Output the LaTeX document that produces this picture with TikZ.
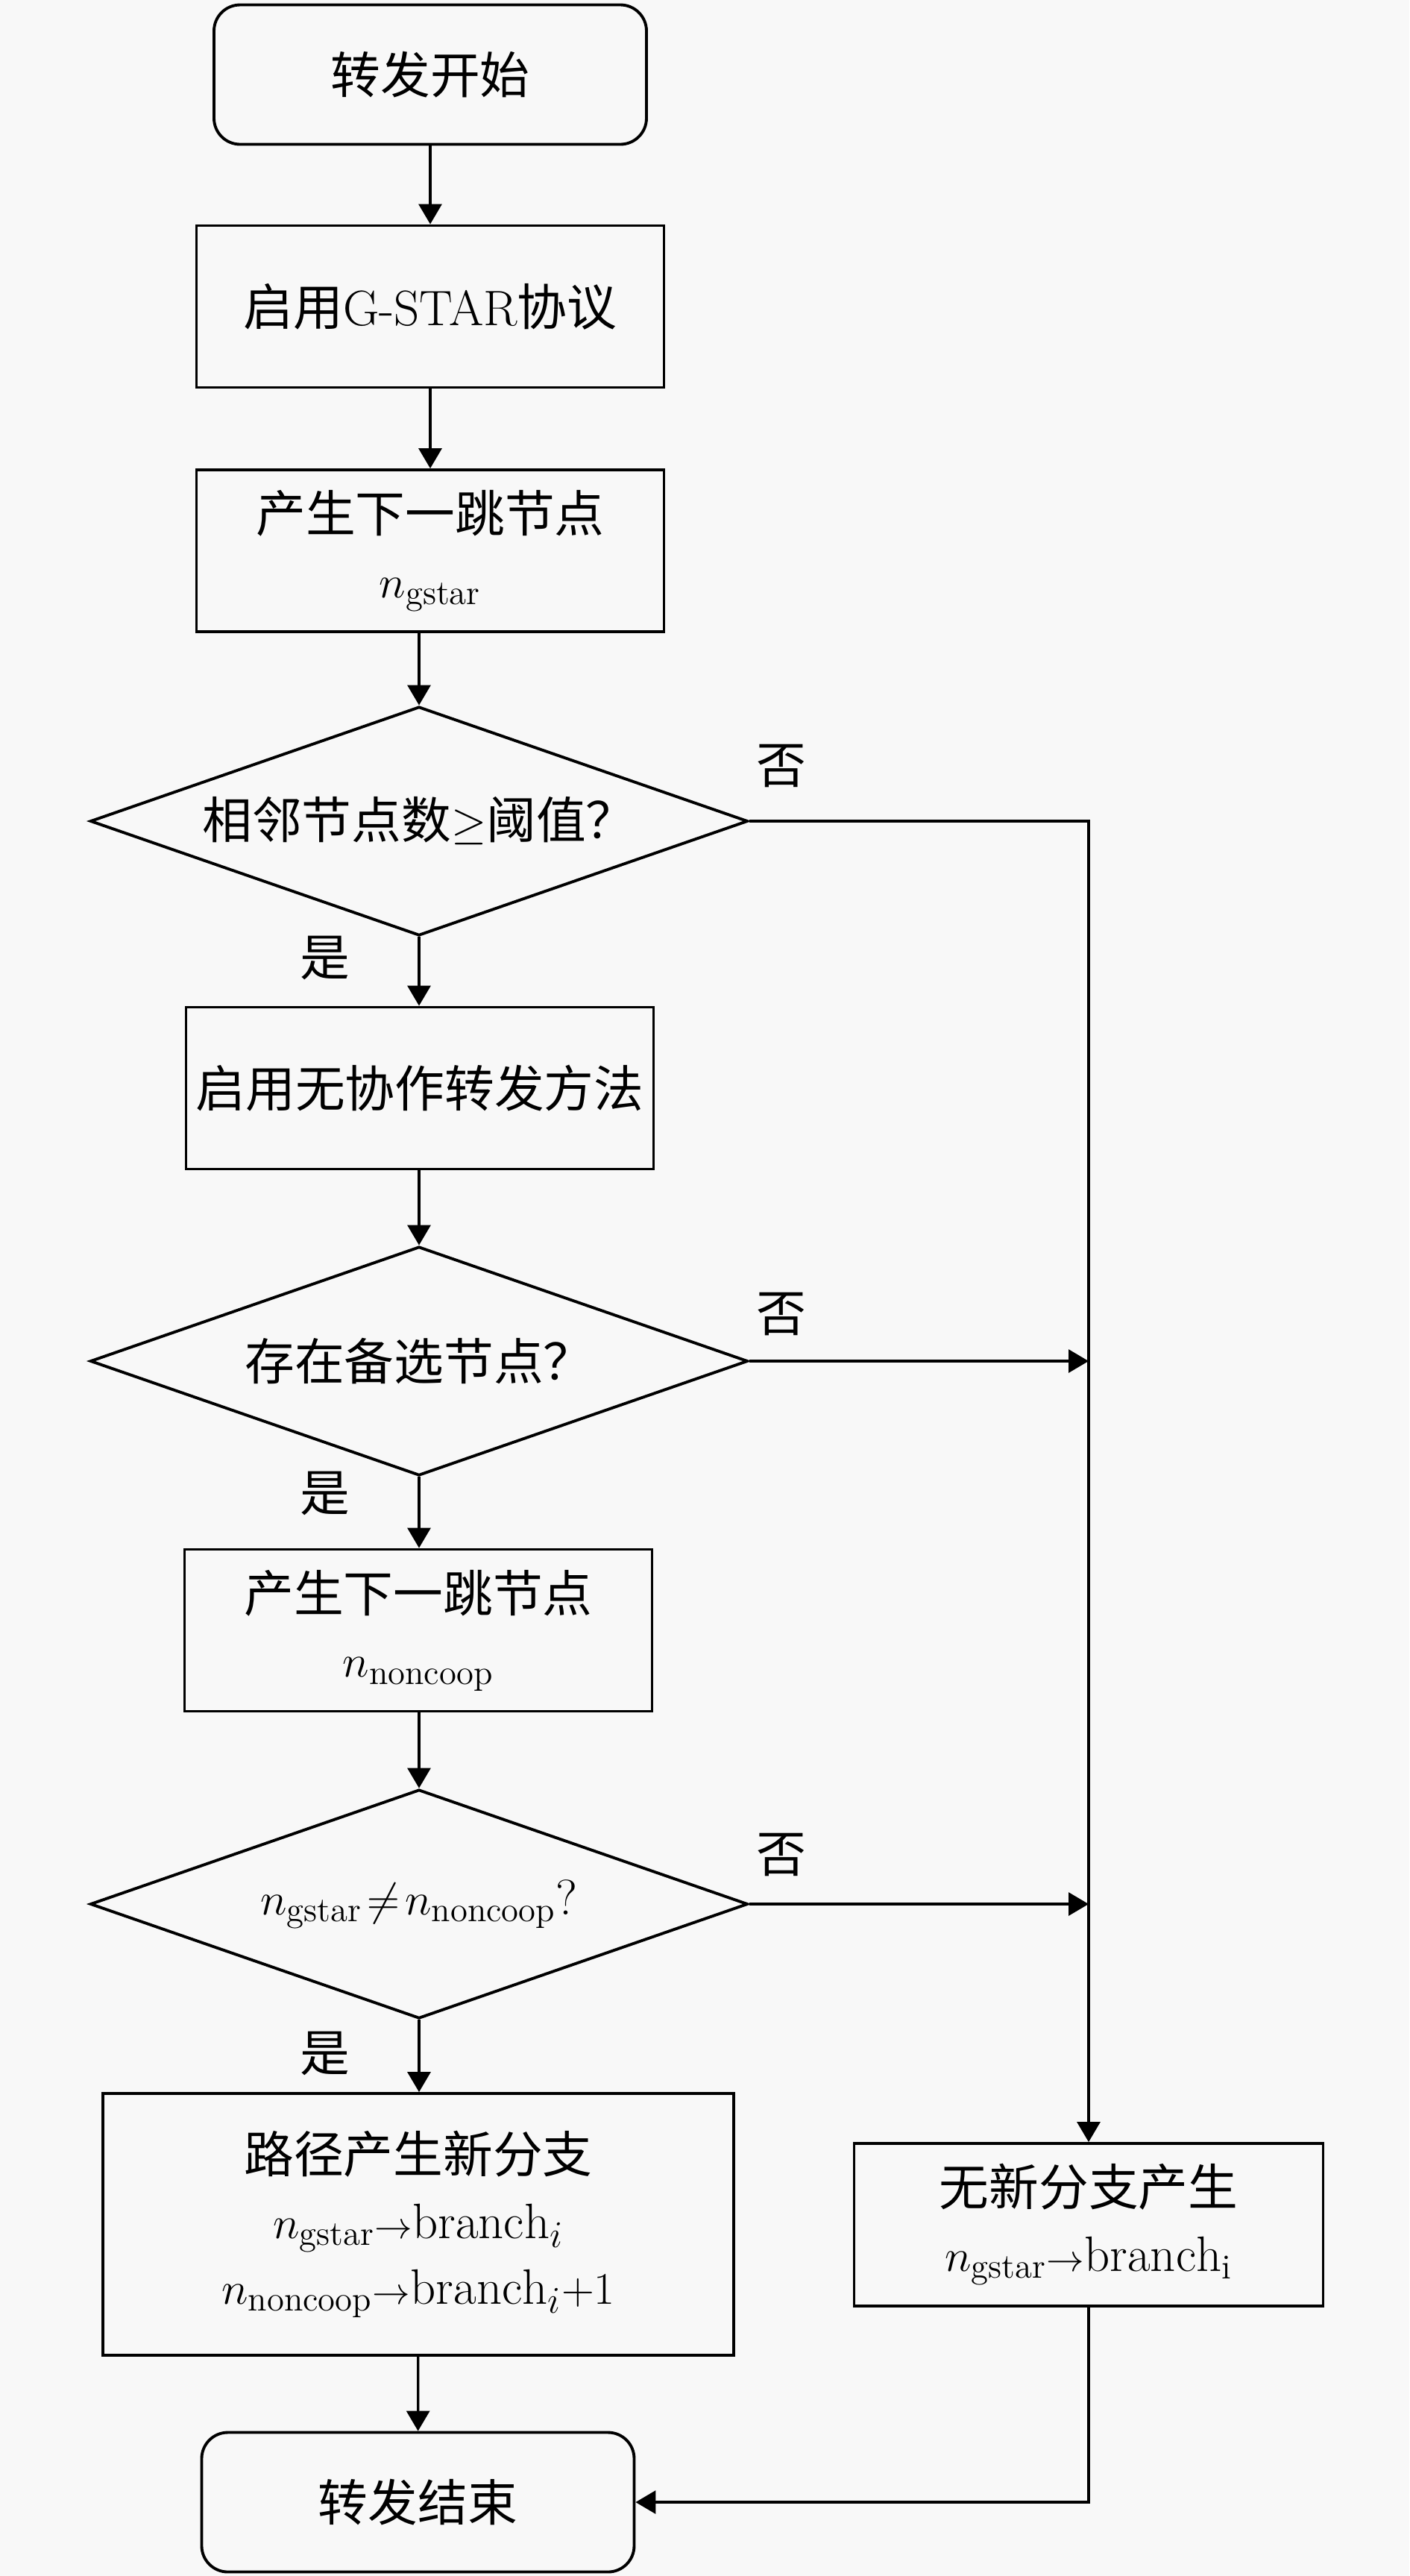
\documentclass[tikz,border=0pt]{standalone}
\usepackage{fontspec}
\newfontfamily\cjk{Noto Sans CJK SC}
\usetikzlibrary{shapes.geometric,arrows.meta}
\definecolor{paper}{HTML}{F8F8F8}

\tikzset{
  txt/.style={font=\fontsize{19}{25}\selectfont, align=center},
  procbox/.style={txt, draw, line width=1.1pt, minimum width=6.27cm, minimum height=2.17cm, inner sep=0pt},
  termbox/.style={procbox, rounded corners=0.35cm, minimum width=5.8cm, minimum height=1.87cm},
  decide/.style={txt, draw, diamond, line width=1.1pt, aspect=2.87, minimum width=8.82cm, minimum height=3.07cm, inner sep=0pt},
  flow/.style={line width=0.9pt, -{Triangle[length=2.7mm, width=3.1mm]}},
  yesno/.style={txt}
}

\begin{document}
\begin{tikzpicture}
\useasboundingbox[fill=paper] (0,0) rectangle (18.9,-34.54);

\node[termbox] (start) at (5.77,-1.0) {\cjk 转发开始};
\node[procbox] (gstar) at (5.77,-4.11) {{\cjk 启用}G-STAR{\cjk 协议}};
\node[procbox] (next1) at (5.77,-7.385) {{\cjk 产生下一跳节点}\\$n_{\mathrm{gstar}}$};
\node[decide] (ask1) at (5.62,-11.01) {{\cjk 相邻节点数}$\geq${\cjk 阈值？}};
\node[procbox] (coop) at (5.63,-14.59) {\cjk 启用无协作转发方法};
\node[decide] (ask2) at (5.62,-18.25) {\cjk 存在备选节点？};
\node[procbox] (next2) at (5.61,-21.86) {{\cjk 产生下一跳节点}\\$n_{\mathrm{noncoop}}$};
\node[decide] (ask3) at (5.62,-25.53) {$n_{\mathrm{gstar}}\!\neq\! n_{\mathrm{noncoop}}$?};
\node[procbox, minimum width=8.46cm, minimum height=3.51cm] (newbr) at (5.61,-29.825)
  {{\cjk 路径产生新分支}\\$n_{\mathrm{gstar}}{\scriptstyle\rightarrow}\mathrm{branch}_i$\\$n_{\mathrm{noncoop}}{\scriptstyle\rightarrow}\mathrm{branch}_i{+}1$};
\node[procbox, minimum width=6.29cm, minimum height=2.18cm] (nonew) at (14.6,-29.83)
  {{\cjk 无新分支产生}\\$n_{\mathrm{gstar}}{\scriptstyle\rightarrow}\mathrm{branch}_{\mathrm{i}}$};
\node[termbox] (stop) at (5.605,-33.55) {\cjk 转发结束};

\node[yesno] (no1) at (10.48,-10.27) {\cjk 否};
\node[yesno] (no2) at (10.48,-17.62) {\cjk 否};
\node[yesno] (no3) at (10.48,-24.87) {\cjk 否};
\node[yesno] (yes1) at (4.36,-12.84) {\cjk 是};
\node[yesno] (yes2) at (4.36,-20.02) {\cjk 是};
\node[yesno] (yes3) at (4.36,-27.53) {\cjk 是};

\draw[flow] (start) -- (gstar);
\draw[flow] (gstar) -- (next1);
\draw[flow] (ask1.north |- next1.south) -- (ask1.north);
\draw[flow] (ask1.south) -- (coop.north -| ask1.south);
\draw[flow] (coop.south -| ask2.north) -- (ask2.north);
\draw[flow] (ask2.south) -- (next2.north -| ask2.south);
\draw[flow] (next2.south -| ask3.north) -- (ask3.north);
\draw[flow] (ask3.south) -- (newbr.north -| ask3.south);
\draw[flow] (newbr) -- (stop);

\draw[flow] (ask1.east) -| (nonew.north);
\draw[flow] (ask2.east) -- (ask2.east -| nonew.north);
\draw[flow] (ask3.east) -- (ask3.east -| nonew.north);
\draw[flow] (nonew.south) |- (stop.east);
\end{tikzpicture}
\end{document}
